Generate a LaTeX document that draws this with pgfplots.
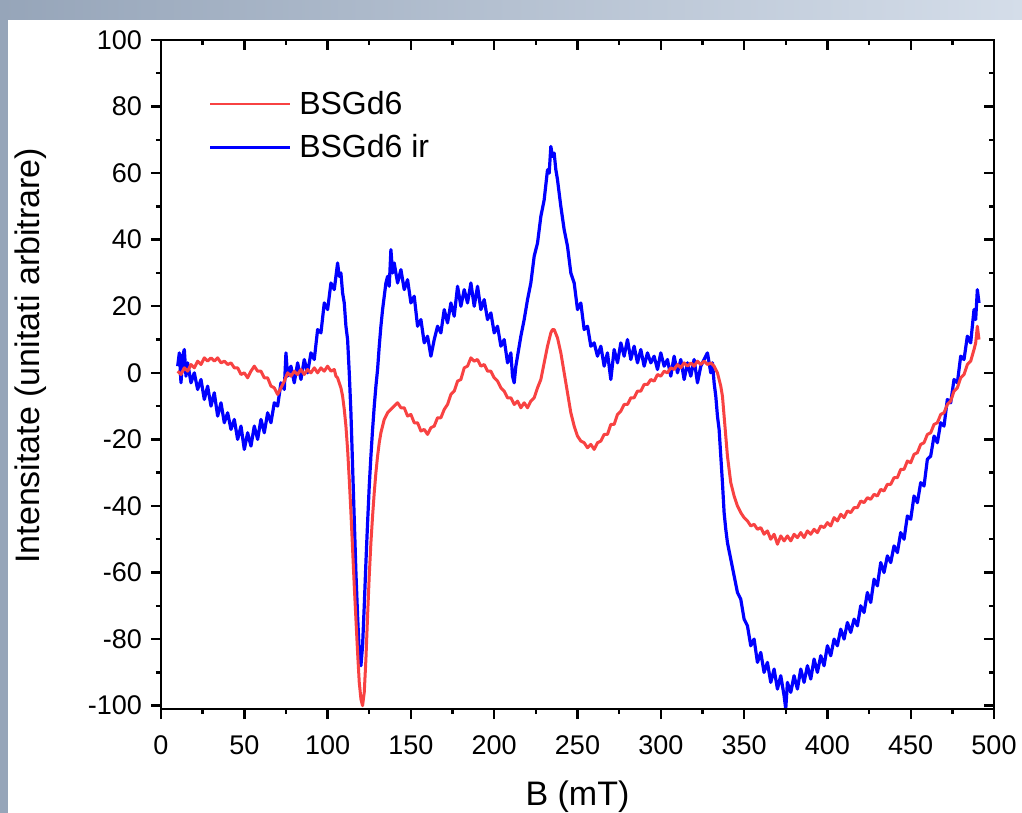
\documentclass[border=0pt]{standalone}
\usepackage{fontspec}
\setmainfont{Liberation Sans}
\usepackage{pgfplots}
\pgfplotsset{compat=1.18}

\definecolor{redline}{RGB}{248,66,66}
\definecolor{blueline}{RGB}{0,0,255}
\definecolor{bgleft}{RGB}{150,165,185}
\definecolor{bgright}{RGB}{212,221,233}

\pgfplotstableread{
x y
10 2
11 6
12 -3
13 5
14 7
15 -1
16 3
18 -3
20 0
22 -5
24 -2
26 -8
28 -4
30 -10
32 -6
34 -13
36 -9
38 -15
40 -12
42 -17
44 -14
46 -20
48 -16
50 -23
52 -18
54 -22
56 -16
58 -20
60 -14
62 -18
64 -12
66 -15
68 -9
70 -10
72 -3
74 -5
75 6
76 -1
78 2
80 -3
82 3
84 -2
86 4
88 0
90 6
92 4
94 13
96 12
98 21
100 19
102 27
104 25
106 33
107 29
108 30
109 24
110 21
111 14
112 10
113 0
114 -12
115 -28
116 -44
117 -60
118 -73
119 -84
120 -88
121 -82
122 -70
123 -57
124 -45
125 -34
126 -25
127 -17
128 -10
129 -4
130 1
131 8
132 14
133 19
134 23
135 27
136 29
137 26
138 37
139 30
140 33
142 27
144 31
146 25
148 28
150 21
152 23
154 14
156 16
158 9
160 11
162 5
164 10
166 14
168 12
170 19
172 15
174 21
176 17
178 26
180 20
182 25
184 21
186 27
188 20
190 26
192 19
194 22
196 16
198 18
200 12
202 14
204 8
206 10
208 3
210 6
211 -1
212 -3
213 2
214 5
216 11
218 16
220 22
222 27
224 35
226 39
228 47
230 52
232 61
233 60
234 68
235 65
236 66
237 61
238 58
240 50
242 43
244 38
246 30
248 27
250 19
252 21
254 13
256 14
258 8
260 9
262 5
264 8
266 2
268 6
270 -2
272 7
274 3
276 9
278 5
280 10
282 4
284 8
286 3
288 7
290 2
292 6
294 3
296 5
298 1
300 6
302 2
304 4
306 -1
308 5
310 0
312 4
314 -2
316 3
318 -1
320 4
322 -3
324 2
326 4
328 6
330 0
331 3
332 -3
333 -7
334 -13
335 -17
336 -25
337 -33
338 -42
339 -47
340 -51
342 -56
344 -61
346 -66
348 -68
350 -74
352 -76
354 -82
356 -80
358 -87
360 -84
362 -90
364 -87
366 -93
368 -89
370 -95
372 -91
374 -97
375 -101
376 -93
378 -96
380 -91
382 -95
384 -89
386 -93
388 -88
390 -92
392 -86
394 -90
396 -85
398 -88
400 -82
402 -85
404 -80
406 -82
408 -77
410 -80
412 -75
414 -78
416 -74
418 -76
420 -70
422 -72
424 -66
426 -69
428 -62
430 -64
432 -57
434 -60
436 -55
438 -57
440 -52
442 -54
444 -48
446 -50
448 -43
450 -44
452 -37
454 -39
456 -33
458 -34
460 -26
462 -25
464 -19
466 -21
468 -15
470 -16
472 -8
474 -9
476 -2
478 -3
480 5
482 4
484 11
486 9
488 19
489 16
490 25
491 21
}\blueir

\pgfplotstableread{
x y
10 0.5
12 -0.5
14 1.5
16 0.5
18 2.5
20 1.5
22 3.5
24 2.5
26 4.5
28 3.5
30 4.5
32 3.5
34 4.5
36 3
38 3.5
40 2.5
42 3
44 1.5
46 1.5
48 -0.5
50 0
52 -1.5
54 0.5
56 2
58 0.5
60 0.5
62 -1.5
64 -1.5
66 -4
68 -4.5
70 -6.5
72 -4.5
74 -2.5
76 0
78 -1
80 0.5
82 -0.5
84 1
86 -0.5
88 1
90 0
92 1.5
94 0
96 1.5
98 0.5
100 2
102 0.5
104 1
105 -1
106 -1.5
107 -3
108 -4.5
109 -7
110 -11
111 -16
112 -23
113 -32
114 -42
115 -53
116 -64
117 -74
118 -84
119 -93
120 -98
121 -100
122 -96
123 -86
124 -73
125 -61
126 -51
127 -43
128 -36
129 -30
130 -25
131 -21
132 -18
134 -14
136 -12
138 -11
140 -10
142 -9
144 -10.5
146 -10.5
148 -13
150 -12.5
152 -15
154 -15
156 -17.5
158 -17
160 -18.5
162 -16.5
164 -16
166 -13.5
168 -13.5
170 -11
172 -9.5
174 -6.5
176 -5.5
178 -2.5
180 -2
182 1.5
184 2
186 4.5
188 3.5
190 4
192 2
194 2.5
196 0.5
198 0.5
200 -1.5
202 -2.5
204 -4.5
206 -5.5
208 -7.5
210 -7.5
212 -9.5
214 -8.5
216 -10.5
218 -9
220 -10.5
222 -8.5
224 -7.5
226 -4.5
228 -2
230 3
232 8
234 12
235 13
236 13
238 10.5
240 6
242 0
244 -6
246 -12
248 -16
250 -19
252 -20.5
254 -21
256 -22.5
258 -21.5
260 -23
262 -21
264 -20.5
266 -18.5
268 -18.5
270 -15.5
272 -15.5
274 -12.5
276 -11.5
278 -9.5
280 -9.5
282 -7.5
284 -7.5
286 -5.5
288 -5.5
290 -3.5
292 -3.5
294 -2
296 -2.5
298 -0.5
300 -1
302 0.5
304 0
306 1.5
308 1
310 2.5
312 1.5
314 3
316 2
318 3
320 2
322 3.5
324 2.5
326 3.5
328 2.5
330 3
332 2
334 0
335 -2
336 -4
337 -7
338 -13
339 -19
340 -25
341 -29
342 -33
344 -37
346 -40
348 -42
350 -43.5
352 -44.5
354 -46
356 -45.5
358 -47
360 -46.5
362 -48.5
364 -47.5
366 -50
368 -48.5
370 -51.5
372 -49
374 -50.5
376 -49
378 -50.5
380 -48.5
382 -49.5
384 -48
386 -49.5
388 -47.5
390 -48.5
392 -47
394 -48
396 -46
398 -46.5
400 -45
402 -46
404 -43.5
406 -44.5
408 -42.5
410 -43.5
412 -41.5
414 -42
416 -40.5
418 -40.5
420 -38.5
422 -39
424 -37.5
426 -38
428 -36.5
430 -37
432 -35
434 -35.5
436 -33.5
438 -33.5
440 -31.5
442 -31.5
444 -29
446 -29
448 -26.5
450 -27
452 -24.5
454 -24
456 -21.5
458 -21
460 -18.5
462 -18
464 -15.5
466 -15
468 -12.5
470 -12
472 -9.5
474 -8.5
476 -5.5
478 -4.5
480 -1.5
482 -0.5
484 2.5
486 3.5
488 7
489 9
490 14
491 10
}\redplain

\begin{document}
\begin{tikzpicture}
% page size and the slide backdrop
\path[use as bounding box] (0,0) rectangle (511pt,406.5pt);
\shade[left color=bgleft, right color=bgright] (0,0) rectangle (511pt,406.5pt);
\fill[white] (4pt,0) rectangle (511pt,396.5pt);

\pgfplotsset{
  esrbox/.style={
    at={(80.5pt,52pt)}, anchor=south west,
    scale only axis, width=416.5pt, height=334.5pt,
    xmin=0, xmax=500, ymin=-101, ymax=100,
    xtick={0,50,...,500}, ytick={-100,-80,...,100},
    minor x tick num=1, minor y tick num=1,
    axis line style={line width=1.2pt},
    every tick/.style={black, line width=1.2pt},
    major tick length=5pt, minor tick length=2.6pt,
  }
}

\begin{axis}[
  esrbox,
  tick align=outside,
  xtick pos=left, ytick pos=left,
  /pgf/number format/assume math mode=true,
  ticklabel style={font=\fontsize{13.5}{16}\selectfont},
  xticklabel style={yshift=-5pt},
  yticklabel style={xshift=-1pt},
  xlabel={B (mT)},
  ylabel={Intensitate (unitati arbitrare)},
  every axis x label/.style={at={(axis description cs:0.5,-0.1315)}, anchor=center, font=\fontsize{17}{20}\selectfont},
  every axis y label/.style={at={(axis description cs:-0.157,0.528)}, rotate=90, anchor=center, font=\fontsize{17}{20}\selectfont},
  reverse legend,
  legend cell align=left,
  legend style={draw=none, fill=none, at={(0.05,0.936)}, anchor=north west,
    font=\fontsize{16}{19}\selectfont, row sep=4.5pt,
    /tikz/every odd column/.append style={column sep=2pt}},
  legend image code/.code={\draw[#1, line width=1.1pt] (0pt,0pt) -- (40pt,0pt);},
]
\addplot[blueline, line width=1.6pt, line join=round] table[x=x, y=y] {\blueir};
\addlegendentry{BSGd6 ir}
\addplot[redline, line width=1.5pt, line join=round] table[x=x, y=y] {\redplain};
\addlegendentry{BSGd6}
\end{axis}

% mirrored top and right ticks point inward
\begin{axis}[
  esrbox,
  tick align=inside,
  xtick pos=right, ytick pos=right,
  xticklabels={}, yticklabels={},
]
\end{axis}
\end{tikzpicture}
\end{document}
